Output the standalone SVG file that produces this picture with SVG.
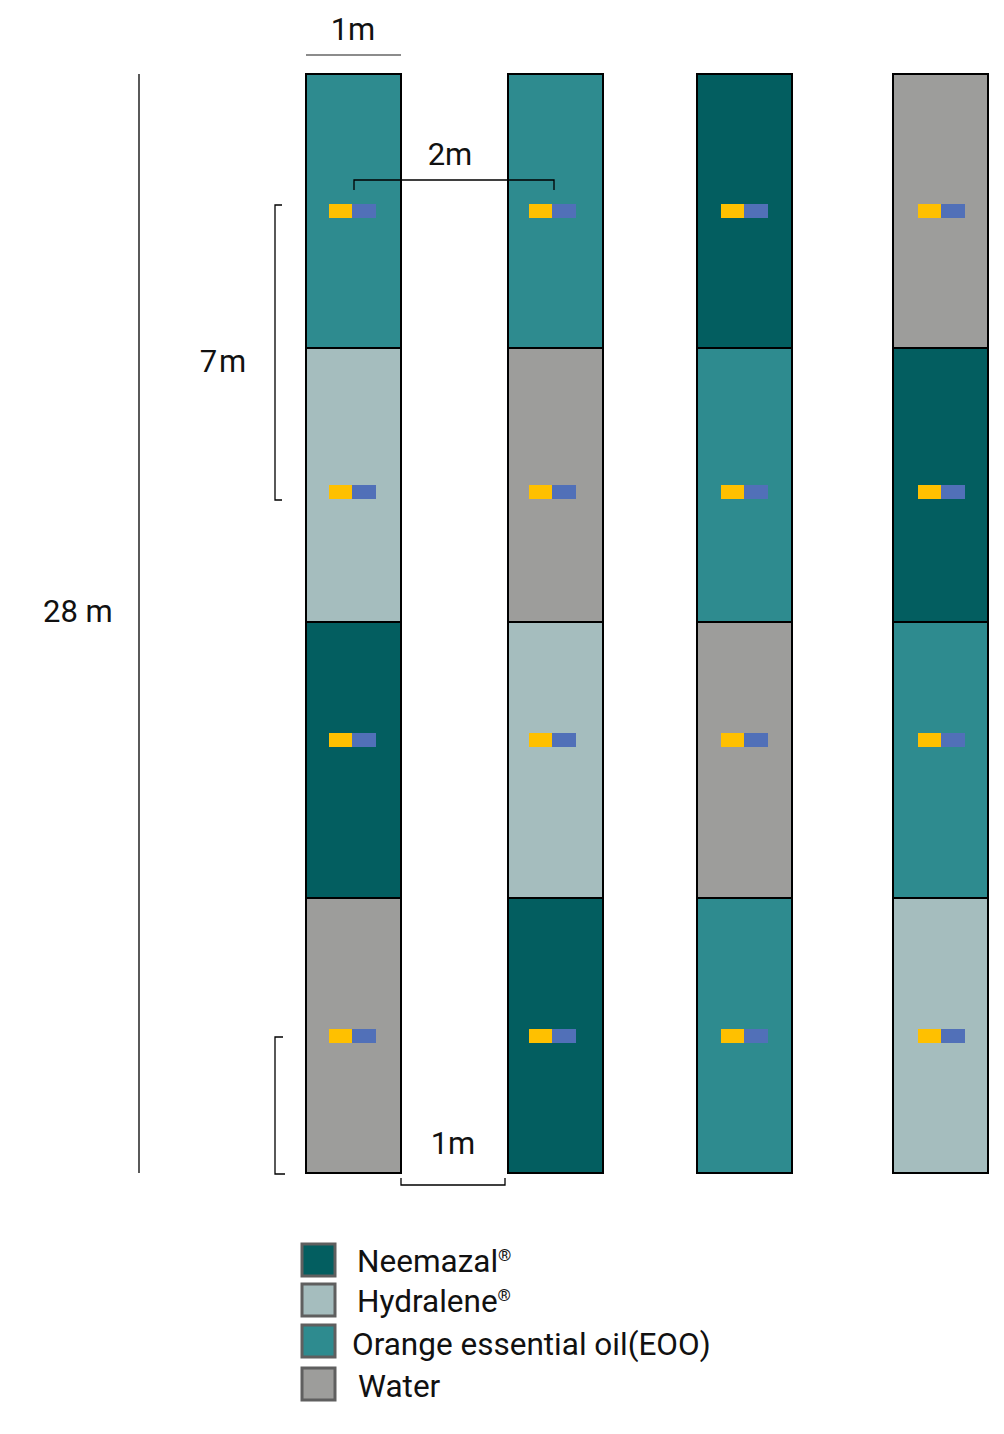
<svg xmlns="http://www.w3.org/2000/svg" width="1004" height="1434" viewBox="0 0 1004 1434">
<style>
.t{font-family:Roboto,"Liberation Sans",sans-serif;fill:#111;}
.cell{stroke:#000;stroke-width:2;}
.n{fill:#035e60;}.h{fill:#a5bdbe;}.e{fill:#2e8b8f;}.w{fill:#9d9d9b;}
.y{fill:#ffc000;}.b{fill:#5170b8;}
.dim{stroke:#000;stroke-width:1.3;fill:none;}
.lg{stroke:#5f5f5f;stroke-width:3;}
</style>
<defs>
<g id="mk"><rect class="y" x="0" y="0" width="23" height="14"/><rect class="b" x="23" y="0" width="24" height="14"/></g>
</defs>
<rect width="1004" height="1434" fill="#fff"/>
<g id="col1">
<rect class="cell e" x="306" y="74" width="95" height="274"/>
<rect class="cell h" x="306" y="348" width="95" height="274"/>
<rect class="cell n" x="306" y="622" width="95" height="276"/>
<rect class="cell w" x="306" y="898" width="95" height="275"/>
</g>
<g id="col2">
<rect class="cell e" x="508" y="74" width="95" height="274"/>
<rect class="cell w" x="508" y="348" width="95" height="274"/>
<rect class="cell h" x="508" y="622" width="95" height="276"/>
<rect class="cell n" x="508" y="898" width="95" height="275"/>
</g>
<g id="col3">
<rect class="cell n" x="697" y="74" width="95" height="274"/>
<rect class="cell e" x="697" y="348" width="95" height="274"/>
<rect class="cell w" x="697" y="622" width="95" height="276"/>
<rect class="cell e" x="697" y="898" width="95" height="275"/>
</g>
<g id="col4">
<rect class="cell w" x="893" y="74" width="95" height="274"/>
<rect class="cell n" x="893" y="348" width="95" height="274"/>
<rect class="cell e" x="893" y="622" width="95" height="276"/>
<rect class="cell h" x="893" y="898" width="95" height="275"/>
</g>
<g id="markers">
<use href="#mk" x="329" y="204"/><use href="#mk" x="329" y="485"/><use href="#mk" x="329" y="733"/><use href="#mk" x="329" y="1029"/>
<use href="#mk" x="529" y="204"/><use href="#mk" x="529" y="485"/><use href="#mk" x="529" y="733"/><use href="#mk" x="529" y="1029"/>
<use href="#mk" x="721" y="204"/><use href="#mk" x="721" y="485"/><use href="#mk" x="721" y="733"/><use href="#mk" x="721" y="1029"/>
<use href="#mk" x="918" y="204"/><use href="#mk" x="918" y="485"/><use href="#mk" x="918" y="733"/><use href="#mk" x="918" y="1029"/>
</g>
<g id="connectors">
<line x1="306" y1="55" x2="401" y2="55" stroke="#666" stroke-width="1.5"/>
<path class="dim" d="M354,190 V180 H554 V190"/>
<line x1="139" y1="74" x2="139" y2="1173" stroke="#000" stroke-width="1.3"/>
<path class="dim" d="M282,205 H275 V500 H282"/>
<path class="dim" d="M283,1037 H275 V1174 H285"/>
<path class="dim" d="M401,1178 V1185 H505 V1178"/>
</g>
<g id="labels">
<text class="t" x="353" y="40" font-size="31" text-anchor="middle">1m</text>
<text class="t" x="450" y="165" font-size="31" text-anchor="middle">2m</text>
<text class="t" x="224" y="372" font-size="31" text-anchor="middle" letter-spacing="2">7m</text>
<text class="t" x="43" y="622" font-size="31">28 m</text>
<text class="t" x="453" y="1154" font-size="31" text-anchor="middle">1m</text>
</g>
<g id="legend">
<rect class="lg n" x="302" y="1244" width="33" height="32"/>
<rect class="lg h" x="302" y="1284" width="33" height="32"/>
<rect class="lg e" x="302" y="1325" width="33" height="32"/>
<rect class="lg w" x="302" y="1368" width="33" height="32"/>
<text class="t" x="357" y="1272" font-size="31.5">Neemazal<tspan font-size="17" dy="-11">®</tspan></text>
<text class="t" x="357" y="1312" font-size="31.5">Hydralene<tspan font-size="17" dy="-11">®</tspan></text>
<text class="t" x="352" y="1355" font-size="31.5">Orange essential oil(EOO)</text>
<text class="t" x="358" y="1397" font-size="31.5">Water</text>
</g>
</svg>
